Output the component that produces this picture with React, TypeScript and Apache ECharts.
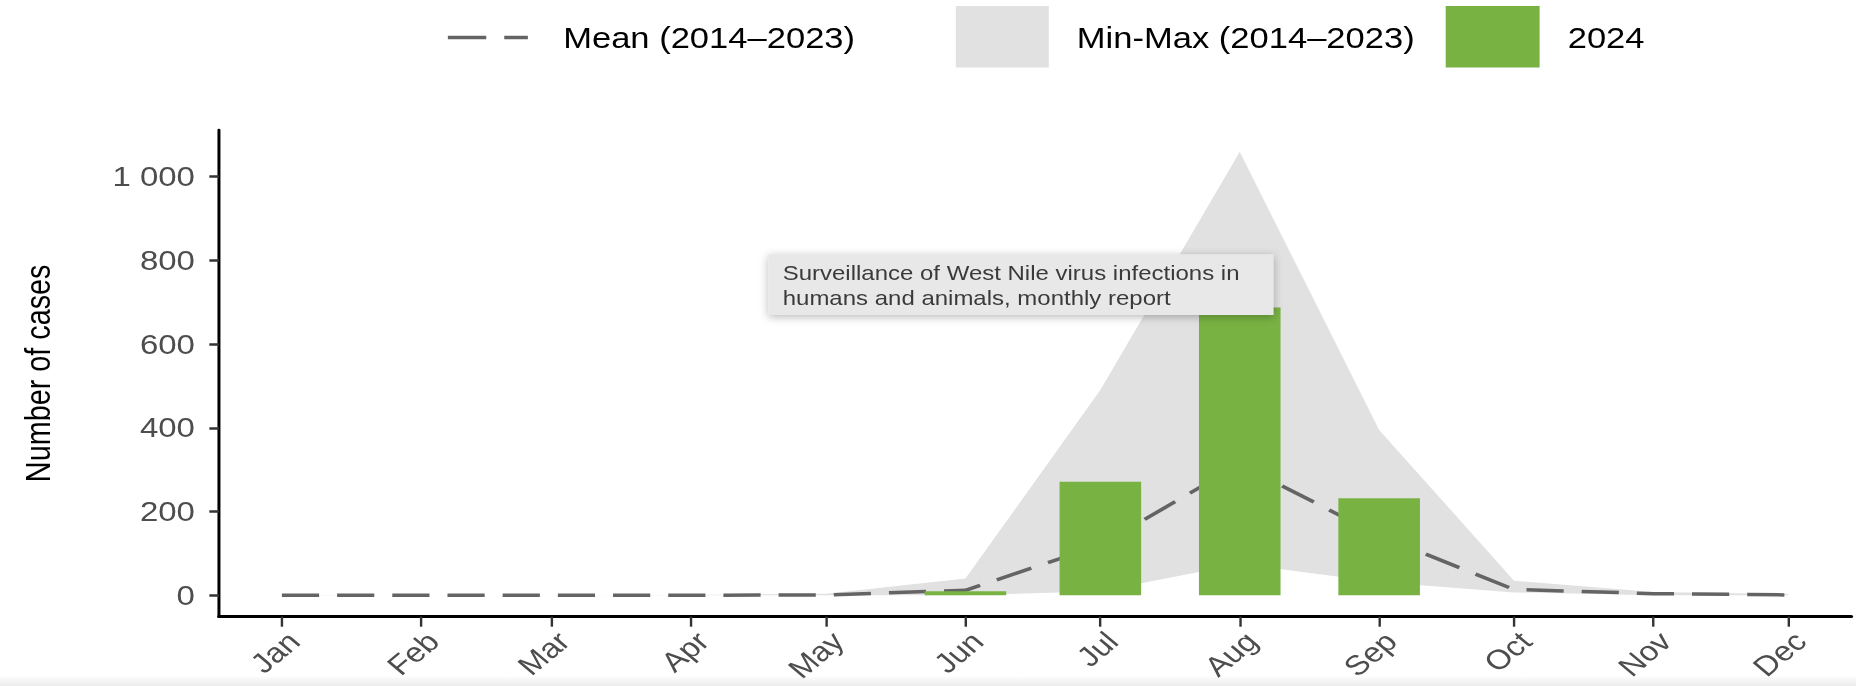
import React, { useEffect, useRef } from "react";
import * as echarts from "echarts";

// Monthly West Nile virus cases: 2024 vs. the 2014–2023 reference period
const monthLabels = ["Jan", "Feb", "Mar", "Apr", "May", "Jun", "Jul", "Aug", "Sep", "Oct", "Nov", "Dec"];
const monthStarts = [
  "2024-01-01", "2024-02-01", "2024-03-01", "2024-04-01", "2024-05-01", "2024-06-01",
  "2024-07-01", "2024-08-01", "2024-09-01", "2024-10-01", "2024-11-01", "2024-12-01",
];
const meanCases = [0, 0, 0, 0, 1, 12, 120, 313, 143, 14, 4, 1];
const minCases = [0, 0, 0, 0, 0, 0, 10, 75, 32, 7, 0, 0];
const maxCases = [1, 0, 0, 1, 4, 40, 490, 1059, 395, 35, 8, 3];
const cases2024 = [0, 0, 0, 0, 0, 10, 271, 687, 232, null, null, null];
const yTickValues = [0, 200, 400, 600, 800, 1000];

const xRangeStart = "2023-12-18";
const xRangeEnd = "2024-12-15";

const FONT = "'Liberation Sans', Arial, Helvetica, sans-serif";
const CHART_W = 1547;
const CHART_H = 686;
const STRETCH_X = 1856 / CHART_W;

const GREY_BAND = "#e1e1e1";
const GREEN = "#78b242";
const MEAN_COLOR = "#646464";

// dates are placed on a numeric axis as UTC day timestamps
const toTs = (s: string) => Date.parse(s + "T00:00:00Z");

export default function App() {
  const ref = useRef<HTMLDivElement>(null);

  useEffect(() => {
    if (!ref.current) return;
    const chart = echarts.init(ref.current, undefined, { renderer: "svg" });

    const monthTs = monthStarts.map(toTs);
    const labelFor = (v: number) => {
      const i = monthTs.findIndex((t) => Math.abs(t - v) < 3600000);
      return i >= 0 ? monthLabels[i] : "";
    };

    // min–max envelope as one polygon: upper edge left→right, lower edge right→left
    const bandRows = monthTs.map((t, i) => [t, minCases[i], maxCases[i]]);

    const option: any = {
      animation: false,
      backgroundColor: "#ffffff",
      grid: { left: 182.5, right: 3.9, top: 130, bottom: 69.3, containLabel: false },
      xAxis: {
        type: "value",
        min: toTs(xRangeStart),
        max: toTs(xRangeEnd),
        axisLine: { show: true, onZero: false, lineStyle: { color: "#000", width: 3 } },
        axisTick: { show: true, customValues: monthTs, length: 10, lineStyle: { color: "#333", width: 2 } },
        axisLabel: {
          customValues: monthTs,
          formatter: (v: number) => labelFor(v),
          rotate: 45,
          align: "right",
          verticalAlign: "top",
          margin: 10,
          fontSize: 27.5,
          color: "#4d4d4d",
          fontFamily: FONT,
        },
        splitLine: { show: false },
      },
      yAxis: {
        type: "value",
        min: -51,
        max: 1111,
        name: "Number of cases",
        nameLocation: "middle",
        nameRotate: 90,
        nameGap: 136,
        nameTextStyle: { fontSize: 28.8, color: "#000", fontFamily: FONT },
        axisLine: { show: true, onZero: false, lineStyle: { color: "#000", width: 2.5 } },
        axisTick: { show: true, customValues: yTickValues, length: 8, lineStyle: { color: "#333", width: 2.5 } },
        axisLabel: {
          customValues: yTickValues,
          formatter: (v: number) => (v >= 1000 ? String(v).replace(/(\d)(\d{3})$/, "$1 $2") : String(v)),
          margin: 20,
          fontSize: 27.5,
          color: "#4d4d4d",
          fontFamily: FONT,
        },
        splitLine: { show: false },
      },
      series: [
        {
          name: "Min-Max (2014–2023)",
          type: "custom",
          silent: true,
          z: 1,
          encode: { x: 0, y: [1, 2] },
          data: bandRows,
          renderItem: (params: any, api: any) => {
            if (params.dataIndex !== 0) return null;
            const upper = bandRows.map((r) => api.coord([r[0], r[2]]));
            const lower = bandRows.map((r) => api.coord([r[0], r[1]])).reverse();
            return {
              type: "polygon",
              shape: { points: upper.concat(lower) },
              style: { fill: GREY_BAND },
            };
          },
        },
        {
          name: "Mean (2014–2023)",
          type: "line",
          z: 2,
          symbol: "none",
          lineStyle: { color: MEAN_COLOR, width: 3.5, type: [31, 15] },
          data: monthTs.map((t, i) => [t, meanCases[i]]),
        },
        {
          name: "2024",
          type: "bar",
          z: 3,
          barWidth: 68,
          itemStyle: { color: GREEN },
          data: monthTs.map((t, i) => [t, cases2024[i]]),
        },
      ],
      graphic: [
        // legend
        {
          type: "line",
          shape: { x1: 373.3, y1: 37.5, x2: 440, y2: 37.5 },
          style: { stroke: MEAN_COLOR, lineWidth: 3.5, lineDash: [32, 15] },
        },
        {
          type: "text",
          x: 469.4,
          y: 38.5,
          style: { text: "Mean (2014–2023)", fontSize: 28.8, fontFamily: FONT, fill: "#000", verticalAlign: "middle" },
        },
        {
          type: "rect",
          shape: { x: 796.7, y: 6, width: 77.5, height: 61.5 },
          style: { fill: GREY_BAND },
        },
        {
          type: "text",
          x: 897.5,
          y: 38.5,
          style: { text: "Min-Max (2014–2023)", fontSize: 28.8, fontFamily: FONT, fill: "#000", verticalAlign: "middle" },
        },
        {
          type: "rect",
          shape: { x: 1205, y: 6, width: 78.3, height: 61.5 },
          style: { fill: GREEN },
        },
        {
          type: "text",
          x: 1306.7,
          y: 38.5,
          style: { text: "2024", fontSize: 28.8, fontFamily: FONT, fill: "#000", verticalAlign: "middle" },
        },
        // hover note over the plot
        {
          type: "group",
          z: 100,
          children: [
            {
              type: "rect",
              z: 100,
              shape: { x: 640.5, y: 254.3, width: 421, height: 60.7 },
              style: {
                fill: "#e8e8e8",
                shadowBlur: 8,
                shadowColor: "rgba(0,0,0,0.28)",
                shadowOffsetY: 2,
              },
            },
            {
              type: "text",
              z: 101,
              x: 652.4,
              y: 261,
              style: {
                text: "Surveillance of West Nile virus infections in\nhumans and animals, monthly report",
                fontSize: 20,
                lineHeight: 25,
                fontFamily: FONT,
                fill: "#3a3a3a",
                verticalAlign: "top",
              },
            },
          ],
        },
        // soft grey strip along the bottom edge
        {
          type: "rect",
          z: 100,
          shape: { x: 0, y: 677, width: CHART_W, height: 9 },
          style: {
            fill: new echarts.graphic.LinearGradient(0, 0, 0, 1, [
              { offset: 0, color: "rgba(236,236,236,0.2)" },
              { offset: 1, color: "rgba(236,236,236,1)" },
            ]),
          },
        },
      ],
    };

    chart.setOption(option);
    return () => chart.dispose();
  }, []);

  return (
    <div
      style={{
        position: "fixed",
        left: 0,
        top: 0,
        width: CHART_W,
        height: CHART_H,
        transform: `scaleX(${STRETCH_X})`,
        transformOrigin: "0 0",
        background: "#fff",
      }}
    >
      <div ref={ref} style={{ width: CHART_W, height: CHART_H }} />
    </div>
  );
}
